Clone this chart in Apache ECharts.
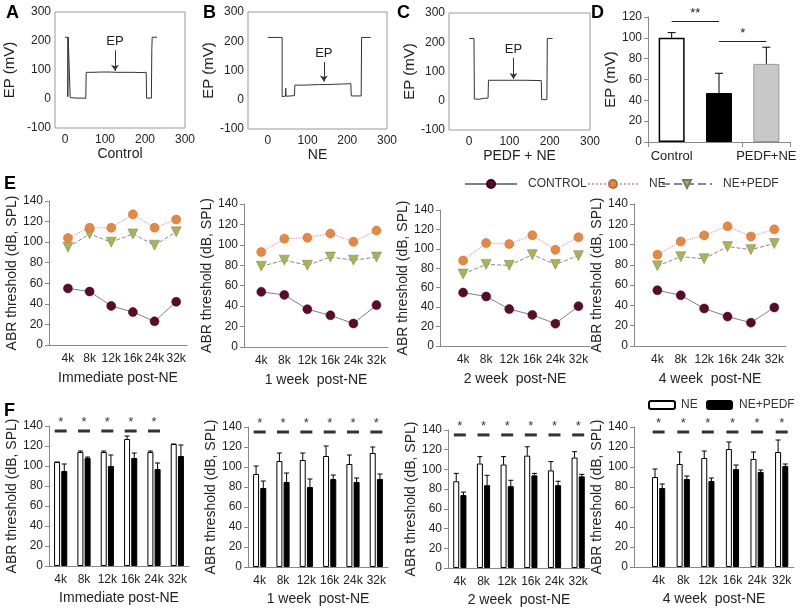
<!DOCTYPE html>
<html><head><meta charset="utf-8">
<script src="https://cdn.jsdelivr.net/npm/echarts@6/dist/echarts.min.js"></script>
<style>html,body{margin:0;padding:0;background:#fff}#c{width:800px;height:608px}</style>
</head><body><div id="c"></div>
<script>
// ---------------- DATA ----------------
// EP traces (time, mV) read from panels A, B, C
const traceA = [[0,213],[7,213],[7,8],[8,213],[12,213],[13,5],[14,3],[30,3],[45,3],[52,2],[53,92],[70,92],[90,93],[110,93],[130,92],[150,92],[170,92],[190,91],[203,92],[204,3],[216,3],[217,170],[218,213],[230,213]];
const traceB = [[0,213],[36,213],[36,11],[44,12],[45,40],[46,12],[67,14],[68,50],[90,50],[110,51],[130,52],[150,52],[170,53],[190,54],[209,55],[210,13],[235,13],[236,213],[259,213]];
const traceC = [[0,213],[12,213],[13,6],[25,5],[35,8],[47,9],[48,70],[80,70],[110,70],[140,70],[179,69],[180,4],[193,4],[194,213],[207,213]];
const traceTitles = ['Control','NE','PEDF + NE'];
const epArrows = [[125,168,97,'EP'],[141,129,62,'EP'],[110,147,74,'EP']];

// Panel D
const dCats = ['Control','NE','PEDF+NE'];
const dVals = [100,47,75];
const dErr = [5,19,16];
const dSig = [[0,1,116,'**'],[1,2,97,'*']];

// Panels E / F
const freqs = ['4k','8k','12k','16k','24k','32k'];
const periodTitles = ['Immediate post-NE','1 week  post-NE','2 week  post-NE','4 week  post-NE'];
const ctrlVals = [
  [55,52,38,32,23,42],
  [54,51,37,31,23,41],
  [55,51,38,32,23,41],
  [55,50,37,29,23,38]
];
const neVals = [
  [104,114,114,127,114,122],
  [93,106,107,111,103,114],
  [88,106,105,114,99,112],
  [90,103,109,118,108,115]
];
const pedfVals = [
  [95,108,100,108,97,110],
  [79,85,80,88,85,88],
  [74,84,83,94,84,93],
  [79,88,86,98,95,101]
];
const neErr = [
  [0,1,1,3,1,0],
  [8,8,7,10,9,6],
  [8,7,8,9,9,6],
  [8,12,7,7,7,12]
];
const pedfErr = [
  [7,1,11,5,6,11],
  [7,9,8,4,4,5],
  [3,10,6,2,4,2],
  [4,3,3,4,2,2]
];
const sigFlags = [
  [1,1,1,1,1,0],
  [1,1,1,1,1,1],
  [1,1,1,1,1,1],
  [1,1,1,1,1,1]
];
const sigLevel = 135;

// ---------------- LAYOUT / STYLE ----------------
const FONT = '"Liberation Sans", Arial, sans-serif';
const TXT = '#222';
const AX = '#888';
const traceLayout = [
  {grid:{left:55,top:12,width:130,height:116}, xmin:-25, gap:38},
  {grid:{left:248,top:12,width:139,height:117}, xmin:-50, gap:18},
  {grid:{left:449,top:13,width:141,height:117}, xmin:-50, gap:26}
];
const dLayout = {grid:{left:648,top:17,width:142,height:125}};
const dStyles = [
  {color:'#fff',borderColor:'#000',borderWidth:1.5},
  {color:'#000',borderColor:'#000',borderWidth:1},
  {color:'#c8c8c8',borderColor:'#999',borderWidth:1}
];
const eLayout = [
  {grid:{left:49,top:201,width:138,height:144}, xmin:0.125, xmax:6.5},
  {grid:{left:244,top:204,width:144,height:143}, xmin:0.25, xmax:6.5},
  {grid:{left:440,top:210,width:150,height:136}, xmin:0, xmax:6.5},
  {grid:{left:634,top:204,width:152,height:142}, xmin:0, xmax:6.5}
];
const fLayout = [
  {grid:{left:49,top:426,width:140,height:140}, xmin:0.5, xmax:6.5},
  {grid:{left:248,top:427,width:140,height:140}, xmin:0.5, xmax:6.5},
  {grid:{left:448,top:430,width:142,height:138}, xmin:0.5, xmax:6.5},
  {grid:{left:634,top:427,width:160,height:140}, xmin:0, xmax:6.5}
];

const grid = [], xAxis = [], yAxis = [], series = [];

function errSeries(gi, pts, offset, cap){
  return {
    type:'custom', xAxisIndex:gi, yAxisIndex:gi, silent:true, z:5,
    data: pts,
    encode:{x:0,y:1},
    renderItem:function(params, api){
      const x0 = api.value(0), v = api.value(1), e = api.value(2);
      const p0 = api.coord([x0, v]);
      const p1 = api.coord([x0, v + e]);
      const x = p0[0] + offset;
      return {type:'group', children:[
        {type:'line', shape:{x1:x,y1:p0[1],x2:x,y2:p1[1]}, style:{stroke:'#000',lineWidth:1}},
        {type:'line', shape:{x1:x-cap,y1:p1[1],x2:x+cap,y2:p1[1]}, style:{stroke:'#000',lineWidth:1}}
      ]};
    }
  };
}

// ---- A, B, C traces
const traces = [traceA, traceB, traceC];
traces.forEach((tr, k) => {
  const L = traceLayout[k];
  const gi = grid.length;
  grid.push(Object.assign({show:true, borderColor:'#999', borderWidth:1, backgroundColor:'transparent'}, L.grid));
  xAxis.push({type:'value', gridIndex:gi, min:L.xmin, max:300, interval:25,
    name:traceTitles[k], nameLocation:'middle', nameGap:17,
    nameTextStyle:{fontFamily:FONT,fontSize:14,color:TXT},
    axisLine:{show:false}, axisTick:{show:false}, splitLine:{show:false},
    axisLabel:{interval:0, fontFamily:FONT, fontSize:12, color:TXT, margin:6,
      formatter:v => (v % 100 === 0 ? String(v) : '')}});
  yAxis.push({type:'value', gridIndex:gi, min:-100, max:300, interval:100,
    name:'EP (mV)', nameLocation:'middle', nameGap:L.gap,
    nameTextStyle:{fontFamily:FONT,fontSize:15,color:TXT},
    axisLine:{show:false}, axisTick:{show:false}, splitLine:{show:false},
    axisLabel:{fontFamily:FONT,fontSize:12,color:TXT,margin:4}});
  const a = epArrows[k];
  series.push({type:'line', xAxisIndex:gi, yAxisIndex:gi, data:tr, symbol:'none',
    lineStyle:{color:'#333', width:1}, silent:true,
    markLine:{silent:true, symbol:['none','arrow'], symbolSize:6,
      lineStyle:{color:'#333', width:1, type:'solid'},
      label:{show:true, position:'start', formatter:a[3], fontFamily:FONT, fontSize:13, color:TXT, distance:2},
      data:[[{coord:[a[0],a[1]]},{coord:[a[0],a[2]]}]]}});
});

// ---- D
(function(){
  const gi = grid.length;
  grid.push(dLayout.grid);
  xAxis.push({type:'category', gridIndex:gi, data:dCats,
    axisLine:{lineStyle:{color:AX}}, axisTick:{show:true,lineStyle:{color:AX}},
    axisLabel:{fontFamily:FONT,fontSize:13,color:TXT,margin:8}});
  yAxis.push({type:'value', gridIndex:gi, min:0, max:120, interval:20,
    name:'EP (mV)', nameLocation:'middle', nameGap:22,
    nameTextStyle:{fontFamily:FONT,fontSize:15,color:TXT},
    axisLine:{show:true,lineStyle:{color:AX}}, axisTick:{show:true,length:4,lineStyle:{color:AX}},
    splitLine:{show:false}, axisLabel:{fontFamily:FONT,fontSize:12,color:TXT,margin:6}});
  series.push({type:'bar', xAxisIndex:gi, yAxisIndex:gi, barWidth:26,
    data:dVals.map((v,i)=>({value:v, itemStyle:dStyles[i]})),
    markLine:{silent:true, symbol:'none', lineStyle:{color:'#222',width:1,type:'solid'},
      label:{show:true, position:'insideMiddleTop', fontFamily:FONT, fontSize:13, color:TXT, distance:1},
      data:dSig.map(s => [{coord:[s[0],s[2]], label:{formatter:s[3]}},{coord:[s[1],s[2]]}])}});
  series.push(errSeries(gi, dVals.map((v,i)=>[i,v,dErr[i]]), 0, 4));
})();

// ---- E panels
const eNames = ['CONTROL','NE','NE+PEDF'];
const eStyles = [
  {symbol:'circle', symbolSize:9, item:{color:'#5c0a2c',borderColor:'#3a0018',borderWidth:0.5}, line:{color:'#808080',width:1,type:'solid'}},
  {symbol:'circle', symbolSize:9, item:{color:'#e8883c',borderColor:'#b86a38',borderWidth:0.5}, line:{color:'#e0a0a8',width:1.2,type:'dotted'}},
  {symbol:'triangle', symbolRotate:180, symbolSize:10, item:{color:'#a9b452',borderColor:'#7a7a60',borderWidth:0.5}, line:{color:'#888',width:1,type:'dashed'}}
];
for (let p = 0; p < 4; p++){
  const L = eLayout[p];
  const gi = grid.length;
  grid.push(L.grid);
  xAxis.push({type:'value', gridIndex:gi, min:L.xmin, max:L.xmax, interval:0.125,
    name:periodTitles[p], nameLocation:'middle', nameGap:26,
    nameTextStyle:{fontFamily:FONT,fontSize:14,color:TXT},
    axisLine:{lineStyle:{color:AX}}, axisTick:{show:false}, splitLine:{show:false},
    axisLabel:{interval:0, fontFamily:FONT,fontSize:12,color:TXT,margin:8,
      formatter:v => (Number.isInteger(v) && v>=1 && v<=freqs.length ? freqs[v-1] : '')}});
  yAxis.push({type:'value', gridIndex:gi, min:0, max:140, interval:20,
    name:'ABR threshold (dB, SPL)', nameLocation:'middle', nameGap:28,
    nameTextStyle:{fontFamily:FONT,fontSize:14,color:TXT},
    axisLine:{show:true,lineStyle:{color:AX}}, axisTick:{show:true,length:4,lineStyle:{color:AX}},
    splitLine:{show:false}, axisLabel:{fontFamily:FONT,fontSize:12,color:TXT,margin:6}});
  [ctrlVals[p], neVals[p], pedfVals[p]].forEach((vals, s) => {
    const st = eStyles[s];
    series.push({type:'line', name:eNames[s], xAxisIndex:gi, yAxisIndex:gi,
      data:vals.map((v,i)=>[i+1,v]), symbol:st.symbol, symbolSize:st.symbolSize,
      symbolRotate:st.symbolRotate||0, showAllSymbol:true,
      itemStyle:st.item, lineStyle:st.line, z: 3 - s, silent:true});
  });
}

// ---- F panels
const fNames = ['NE ','NE+PEDF '];
const fStyles = [
  {color:'#fff',borderColor:'#000',borderWidth:1},
  {color:'#000',borderColor:'#000',borderWidth:1}
];
const BW = 6, GAP = 1.2;
for (let p = 0; p < 4; p++){
  const L = fLayout[p];
  const gi = grid.length;
  grid.push(L.grid);
  xAxis.push({type:'value', gridIndex:gi, min:L.xmin, max:L.xmax, interval:0.125,
    name:periodTitles[p], nameLocation:'middle', nameGap:25,
    nameTextStyle:{fontFamily:FONT,fontSize:14,color:TXT},
    axisLine:{lineStyle:{color:AX}}, axisTick:{show:false}, splitLine:{show:false},
    axisLabel:{interval:0, fontFamily:FONT,fontSize:12,color:TXT,margin:8,
      formatter:v => (Number.isInteger(v) && v>=1 && v<=freqs.length ? freqs[v-1] : '')}});
  yAxis.push({type:'value', gridIndex:gi, min:0, max:140, interval:20,
    name:'ABR threshold (dB, SPL)', nameLocation:'middle', nameGap:28,
    nameTextStyle:{fontFamily:FONT,fontSize:14,color:TXT},
    axisLine:{show:true,lineStyle:{color:AX}}, axisTick:{show:true,length:4,lineStyle:{color:AX}},
    splitLine:{show:false}, axisLabel:{fontFamily:FONT,fontSize:12,color:TXT,margin:6}});
  [neVals[p], pedfVals[p]].forEach((vals, s) => {
    series.push({type:'bar', name:fNames[s], xAxisIndex:gi, yAxisIndex:gi,
      data:vals.map((v,i)=>[i+1,v]), barWidth:BW, barGap:'20%',
      itemStyle:fStyles[s], silent:true});
  });
  const off = (BW + GAP) / 2;
  series.push(errSeries(gi, neVals[p].map((v,i)=>[i+1,v,neErr[p][i]]), -off, 2.5));
  series.push(errSeries(gi, pedfVals[p].map((v,i)=>[i+1,v,pedfErr[p][i]]), off, 2.5));
  series.push({type:'scatter', xAxisIndex:gi, yAxisIndex:gi, silent:true,
    data:sigFlags[p].map((f,i)=>f ? [i+1, sigLevel] : null).filter(Boolean),
    symbol:'rect', symbolSize:[12,3], itemStyle:{color:'#000'},
    label:{show:true, position:'top', distance:1, formatter:'*', fontFamily:FONT, fontSize:13, color:'#000'}});
}

const letters = [['A',6,4],['B',203,4],['C',397,4],['D',591,4],['E',4,175],['F',4,402]];

const legendBase = {orient:'horizontal', padding:0, textStyle:{fontFamily:FONT,fontSize:12,color:'#333',padding:[0,0,0,6]}};
const legendPos = [
  {name:eNames[0], left:464, top:178, itemWidth:52, itemHeight:10, pad:6},
  {name:eNames[1], left:587, top:178, itemWidth:50, itemHeight:10, pad:6},
  {name:eNames[2], left:661, top:178, itemWidth:50, itemHeight:10, pad:6},
  {name:fNames[0], left:648, top:399, itemWidth:26, itemHeight:8, pad:1},
  {name:fNames[1], left:706, top:399, itemWidth:25, itemHeight:8, pad:2}
];

const option = {
  animation:false,
  backgroundColor:'#fff',
  textStyle:{fontFamily:FONT},
  grid, xAxis, yAxis, series,
  legend: legendPos.map(l => Object.assign({}, legendBase, {data:[l.name], left:l.left, top:l.top,
    itemWidth:l.itemWidth, itemHeight:l.itemHeight,
    textStyle:{fontFamily:FONT,fontSize:12,color:'#333',padding:[0,0,0,l.pad]}})),
  graphic: letters.map(l => ({type:'text', left:l[1], top:l[2],
    style:{text:l[0], font:'bold 18px "Liberation Sans", Arial, sans-serif', fill:'#000'}}))
};
const chart = echarts.init(document.getElementById('c'));
chart.setOption(option);
</script></body></html>
